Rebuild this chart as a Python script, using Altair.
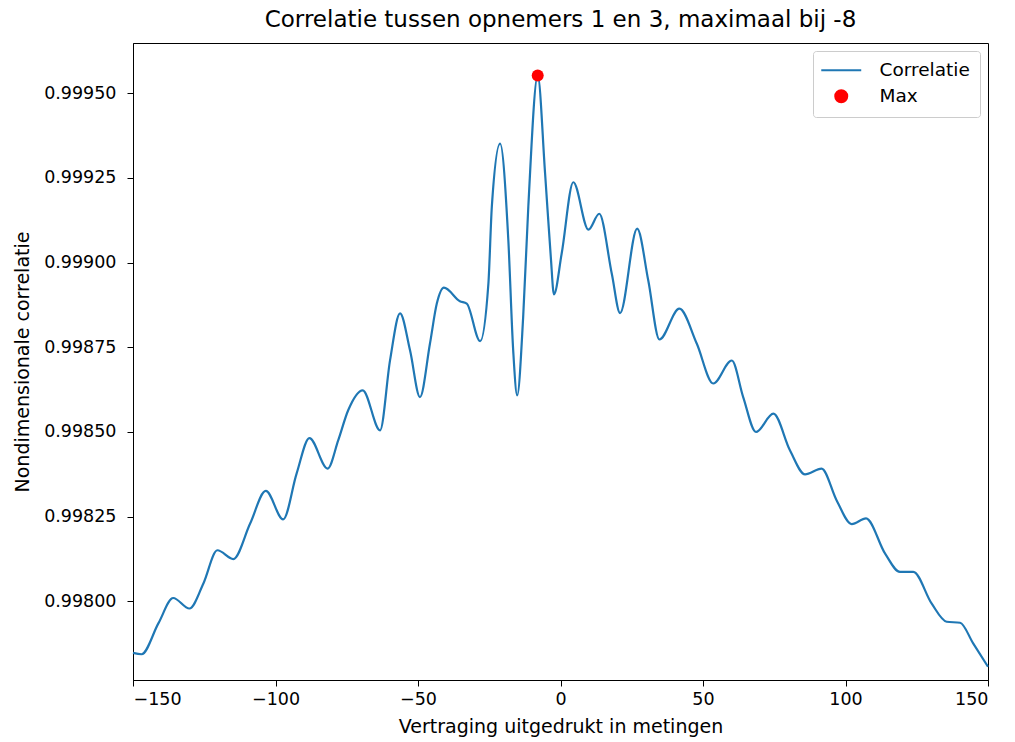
import altair as alt
import pandas as pd

# Lag (samples) and correlation values
lags = [-150, -147, -141.1, -135.9, -130.2, -125.3, -120.4, -114.8, -108.9, -103.4,
        -97.3, -92.6, -88.1, -81.7, -78, -74.5, -69.4, -63.3, -59.8, -56.3,
        -52.8, -49.3, -45.8, -43.4, -40.9, -35.3, -32.9, -28.2, -25.3, -24.1,
        -21.2, -18.3, -16.6, -15.2, -13.1, -11.3, -8, -5.4, -3.4, -2.3,
        0.4, 4.5, 9.8, 13.6, 18, 20.9, 26.9, 30.8, 34.7, 41.7,
        47.8, 53.6, 60.1, 64.1, 68.6, 74.7, 80.5, 85.8, 91.6, 96.9,
        102.2, 107.2, 113.9, 119.1, 123.8, 130.2, 135.5, 140.2, 144.8, 150]
corr = [0.997848, 0.997844, 0.997935, 0.998010, 0.997979, 0.998053, 0.998151, 0.998125, 0.998230, 0.998326,
        0.998242, 0.998377, 0.998482, 0.998392, 0.998475, 0.998564, 0.998623, 0.998505, 0.998712, 0.998850,
        0.998741, 0.998603, 0.998761, 0.998879, 0.998926, 0.998886, 0.998879, 0.998768, 0.998938, 0.999164,
        0.999351, 0.999065, 0.998741, 0.998608, 0.998839, 0.999164, 0.999552, 0.999262, 0.999016, 0.998906,
        0.999026, 0.999237, 0.999097, 0.999144, 0.998967, 0.998851, 0.999100, 0.998947, 0.998773, 0.998864,
        0.998761, 0.998643, 0.998711, 0.998603, 0.998500, 0.998554, 0.998446, 0.998375, 0.998392, 0.998298,
        0.998228, 0.998245, 0.998141, 0.998087, 0.998087, 0.997994, 0.997940, 0.997937, 0.997876, 0.997807]

max_lag = [-8]
max_corr = [0.999552]

series_names = ["Correlatie", "Max"]
series_colors = ["#1f77b4", "#ff0000"]
y_ticks = [0.998, 0.99825, 0.9985, 0.99875, 0.999, 0.99925, 0.9995]
x_ticks = [-150, -100, -50, 0, 50, 100, 150]

df_line = pd.DataFrame({"lag": lags, "corr": corr, "series": "Correlatie"})
df_max = pd.DataFrame({"lag": max_lag, "corr": max_corr, "series": "Max"})

FONT = "DejaVu Sans"

x_enc = alt.X("lag:Q",
              scale=alt.Scale(domain=[-150, 150], nice=False, zero=False),
              axis=alt.Axis(values=x_ticks, title="Vertraging uitgedrukt in metingen",
                            grid=False, format="d", labelPadding=4, titlePadding=10))
y_enc = alt.Y("corr:Q",
              scale=alt.Scale(domain=[0.997768, 0.999648], nice=False, zero=False),
              axis=alt.Axis(values=y_ticks, title="Nondimensionale correlatie",
                            grid=False, format=".5f", labelPadding=11, titlePadding=11))

legend = alt.Legend(
    title=None, orient="top-right", offset=8,
    fillColor="white", strokeColor="#cccccc", cornerRadius=3, padding=10,
    labelFont=FONT, labelFontSize=18.5, labelColor="#000000",
    symbolOffset=9, labelOffset=29, rowPadding=6,
    symbolSize=144, symbolStrokeWidth=2, symbolOpacity=1,
    symbolType=alt.ExprRef(expr="datum.value == 'Max' ? 'circle' : 'M-3.33,0H3.33'"),
)

color_enc = alt.Color("series:N",
                      scale=alt.Scale(domain=series_names, range=series_colors),
                      legend=legend)

line = alt.Chart(df_line).mark_line(interpolate="monotone", strokeWidth=2.2).encode(
    x=x_enc, y=y_enc, color=color_enc)

points = alt.Chart(df_max).mark_circle(size=144, opacity=1).encode(
    x=x_enc, y=y_enc, color=color_enc)

chart = alt.layer(line, points).properties(
    width=855, height=637,
    background="white",
    padding={"left": 133, "top": 43, "right": 27, "bottom": 62},
    autosize=alt.AutoSizeParams(type="none"),
    title=alt.TitleParams("Correlatie tussen opnemers 1 en 3, maximaal bij -8",
                          font=FONT, fontSize=23, fontWeight="normal", color="#000000",
                          anchor="middle", baseline="bottom", offset=-12, frame="group"),
).configure_view(
    stroke="#000000", strokeWidth=1
).configure_axis(
    labelFont=FONT, labelFontSize=17.5, labelColor="#000000",
    titleFont=FONT, titleFontSize=19, titleColor="#000000", titleFontWeight="normal",
    domainColor="#000000", domainWidth=1, tickColor="#000000", tickSize=6, tickWidth=1,
)

chart.save("out.html", embed_options={"renderer": "svg", "actions": False})
